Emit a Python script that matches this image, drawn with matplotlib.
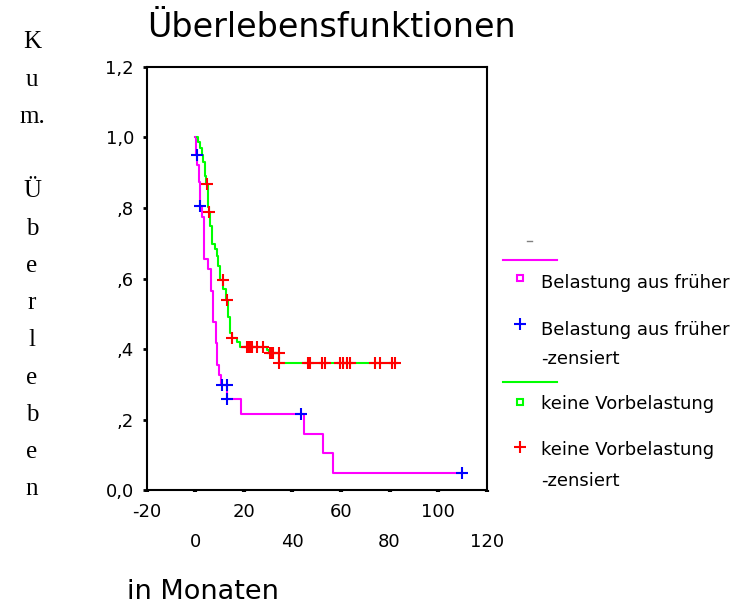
import numpy as np
import matplotlib.pyplot as plt
from matplotlib.lines import Line2D

# Kaplan-Meier Stufen: Zeitpunkt (Monate) und kum. Ueberleben danach
bel_time = [0.0, 0.5, 0.7, 1.4, 1.8, 2.8, 3.7, 5.4, 6.4, 7.5, 8.5, 9.1, 9.8,
            10.6, 13.0, 18.7, 44.9, 52.5, 56.6, 109.7]
bel_surv = [1.0, 0.949, 0.922, 0.874, 0.807, 0.774, 0.655, 0.626, 0.564, 0.478,
            0.416, 0.354, 0.326, 0.297, 0.259, 0.216, 0.159, 0.105, 0.049, 0.049]
bel_cens_time = [0.6, 2.1, 10.9, 13.2, 13.0, 43.6, 109.7]
bel_cens_surv = [0.949, 0.807, 0.297, 0.297, 0.259, 0.216, 0.049]

keine_time = [0.6, 1.3, 2.0, 2.8, 3.4, 4.0, 4.5, 5.1, 5.4, 5.6, 6.1, 6.8, 8.2,
              8.8, 9.5, 10.2, 11.6, 12.7, 13.6, 14.3, 15.0, 17.1, 18.4, 29.5,
              30.5, 34.5, 82.3]
keine_surv = [1.0, 0.988, 0.969, 0.949, 0.931, 0.892, 0.869, 0.831, 0.802, 0.788,
              0.749, 0.697, 0.683, 0.664, 0.635, 0.597, 0.569, 0.54, 0.492, 0.445,
              0.431, 0.421, 0.407, 0.397, 0.388, 0.359, 0.359]
keine_cens_time = [4.7, 5.8, 11.3, 13.0, 15.2, 21.2, 21.9, 22.6, 23.2, 25.3, 28.0,
                   30.8, 31.5, 32.1, 34.3, 34.6, 46.5, 47.2, 52.1, 53.4, 59.6,
                   61.0, 62.3, 63.7, 74.0, 76.1, 80.9, 82.3]
keine_cens_surv = [0.869, 0.788, 0.597, 0.54, 0.431, 0.407, 0.407, 0.407, 0.407,
                   0.407, 0.407, 0.388, 0.388, 0.388, 0.388, 0.359, 0.359, 0.359,
                   0.359, 0.359, 0.359, 0.359, 0.359, 0.359, 0.359, 0.359, 0.359,
                   0.359]

xticks_top = [-20, 20, 60, 100]
xticks_low = [0, 40, 80, 120]
yticks = [0.0, 0.2, 0.4, 0.6, 0.8, 1.0, 1.2]
ytick_labels = ['0,0', ',2', ',4', ',6', ',8', '1,0', '1,2']

ylabel_chars = ['K', 'u', 'm.', '', 'Ü', 'b', 'e', 'r', 'l', 'e', 'b', 'e', 'n']

MAG = '#FF00FF'
GRN = '#00FF00'
BLU = '#0000FF'
RED = '#FF0000'

fig = plt.figure(figsize=(7.46, 6.04), dpi=100)
ax = fig.add_axes([0.1966, 0.1887, 0.4558, 0.7004])

ax.step(bel_time, bel_surv, where='post', color=MAG, lw=1.5, zorder=2)
ax.step(keine_time, keine_surv, where='post', color=GRN, lw=1.5, zorder=3)
ax.plot(bel_cens_time, bel_cens_surv, '+', color=BLU, ms=9, mew=1.5, zorder=4)
ax.plot(keine_cens_time, keine_cens_surv, '+', color=RED, ms=9, mew=1.5, zorder=4)

ax.set_xlim(-20, 120)
ax.set_ylim(0, 1.2)
ax.set_yticks(yticks)
ax.set_yticklabels(ytick_labels)
ax.set_xticks(xticks_top)
ax.set_xticklabels([str(v) for v in xticks_top])
ax.set_xticks(xticks_low, minor=True)
ax.set_xticklabels([str(v) for v in xticks_low], minor=True)
ax.tick_params(axis='y', direction='out', length=3.2, width=2, pad=6, labelsize=13)
ax.tick_params(axis='x', which='both', direction='out', length=1.2, width=3,
               labelsize=13)
ax.tick_params(axis='x', which='major', pad=8)
ax.tick_params(axis='x', which='minor', pad=30)
for s in ax.spines.values():
    s.set_linewidth(1.5)

# Overlay in Pixelkoordinaten fuer Titel, Achsentitel und Legende
ov = fig.add_axes([0, 0, 1, 1], facecolor='none')
ov.set_xlim(0, 746)
ov.set_ylim(604, 0)
ov.axis('off')

ov.text(146.7, 36.7, 'Überlebensfunktionen', fontsize=24, va='baseline', ha='left')
ov.text(127, 599, 'in Monaten', fontsize=19.5, va='baseline', ha='left')
for i, ch in enumerate(ylabel_chars):
    if ch:
        ov.text(32, 48.3 + 37.25 * i, ch, family='Liberation Serif', fontsize=18,
                ha='center', va='baseline')

# Legende
ov.add_line(Line2D([527, 532], [241, 241], color='gray', lw=1))
ov.add_line(Line2D([503, 557], [260, 260], color=MAG, lw=1.5))
ov.plot([520], [278], 's', ms=5, mfc='white', mec=MAG, mew=1.5)
ov.plot([520], [324], '+', ms=9, mew=1.5, color=BLU)
ov.add_line(Line2D([503, 557], [382, 382], color=GRN, lw=1.5))
ov.plot([520], [402], 's', ms=5, mfc='white', mec=GRN, mew=1.5)
ov.plot([520], [447], '+', ms=9, mew=1.5, color=RED)

leg_texts = [('Belastung aus früher', 288.3), ('Belastung aus früher', 335),
             ('-zensiert', 364), ('keine Vorbelastung', 409.3),
             ('keine Vorbelastung', 455), ('-zensiert', 486)]
for txt, yb in leg_texts:
    ov.text(541, yb, txt, fontsize=13, va='baseline', ha='left')

fig.savefig('out.png', dpi=100)
